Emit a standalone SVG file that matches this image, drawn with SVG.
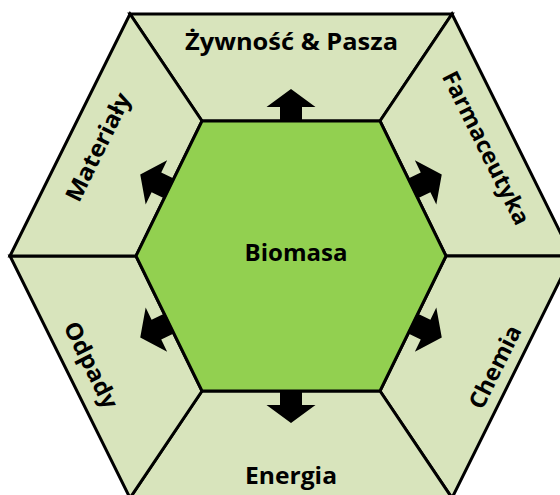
<svg xmlns="http://www.w3.org/2000/svg" width="560" height="495" viewBox="0 0 560 495">
<style>
.seg{fill:#D8E4BC;stroke:#000;stroke-width:3;stroke-linejoin:miter}
.core{fill:#92D050;stroke:#000;stroke-width:3}
.lbl{font-family:"Open Sans","Noto Sans","Liberation Sans",sans-serif;font-weight:700;font-size:23px;fill:#000;text-anchor:middle}
.arr{fill:#000}
</style>
<defs>
<path id="arrow" d="M-11,1 V-14 H-24.5 L0,-32 L24.5,-14 H11 V1 Z"/>
</defs>
<rect width="560" height="495" fill="#fff"/>
<g id="seg-top"><polygon class="seg" points="130,14 452,14 380,121 202,121"/>
<text class="lbl" x="291.5" y="50" textLength="213" lengthAdjust="spacingAndGlyphs">Żywność &amp; Pasza</text></g>
<g id="seg-upper-right"><polygon class="seg" points="452,14 572,256 446,256 380,121"/>
<text class="lbl" transform="translate(486,148) rotate(63.6)" x="0" y="8" textLength="168" lengthAdjust="spacingAndGlyphs">Farmaceutyka</text></g>
<g id="seg-lower-right"><polygon class="seg" points="572,256 452,498 380,391 446,256"/>
<text class="lbl" transform="translate(495,367) rotate(-63.6)" x="0" y="8" textLength="90" lengthAdjust="spacingAndGlyphs">Chemia</text></g>
<g id="seg-bottom"><polygon class="seg" points="452,498 130,498 202,391 380,391"/>
<text class="lbl" x="291" y="484" textLength="92" lengthAdjust="spacingAndGlyphs">Energia</text></g>
<g id="seg-lower-left"><polygon class="seg" points="130,498 10,256 136,256 202,391"/>
<text class="lbl" transform="translate(91,365) rotate(63.6)" x="0" y="8" textLength="94" lengthAdjust="spacingAndGlyphs">Odpady</text></g>
<g id="seg-upper-left"><polygon class="seg" points="10,256 130,14 202,121 136,256"/>
<text class="lbl" transform="translate(98,147) rotate(-63.6)" x="0" y="8" textLength="118" lengthAdjust="spacingAndGlyphs">Materiały</text></g>
<g id="biomasa"><polygon class="core" points="202,121 380,121 446,256 380,391 202,391 136,256"/>
<text class="lbl" x="296" y="261" textLength="103" lengthAdjust="spacingAndGlyphs">Biomasa</text></g>
<g id="connectors" class="arr">
<use href="#arrow" transform="translate(291,121)"/>
<use href="#arrow" transform="translate(413,188.5) rotate(64)"/>
<use href="#arrow" transform="translate(413,323.5) rotate(116)"/>
<use href="#arrow" transform="translate(291,391) rotate(180)"/>
<use href="#arrow" transform="translate(169,323.5) rotate(-116)"/>
<use href="#arrow" transform="translate(169,188.5) rotate(-64)"/>
</g>
</svg>
